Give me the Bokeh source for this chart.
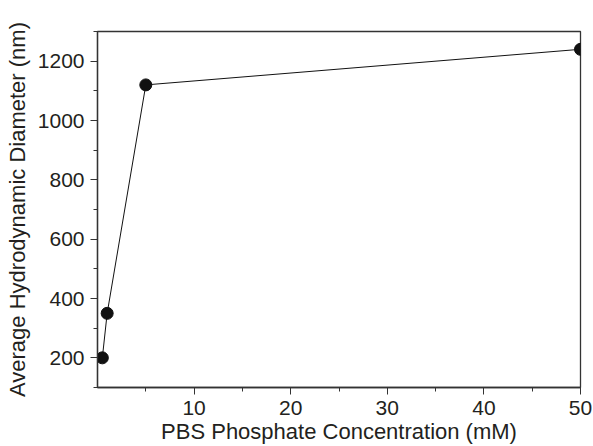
from bokeh.plotting import figure
from bokeh.models import FixedTicker, Range1d
from bokeh.embed import file_html
from bokeh.resources import INLINE

# Data
concentration_mM = [0.5, 1, 5, 50]
diameter_nm = [200, 350, 1120, 1240]
x_ticks = [10, 20, 30, 40, 50]
x_minor = [5, 15, 25, 35, 45]
y_ticks = [200, 400, 600, 800, 1000, 1200]
y_minor = [100, 300, 500, 700, 900, 1100, 1300]

X_MIN, X_MAX = 0, 50
Y_MIN, Y_MAX = 100, 1300

TXT = "#231f20"
FONT = "Liberation Sans"

p = figure(width=593, height=446, output_backend="svg", toolbar_location=None,
           x_range=Range1d(X_MIN, X_MAX), y_range=Range1d(Y_MIN, Y_MAX),
           min_border_left=97, min_border_right=13, min_border_top=31, min_border_bottom=57)

p.line(concentration_mM, diameter_nm, line_color="#111111", line_width=1)
p.scatter(concentration_mM, diameter_nm, size=12, fill_color="#111111", line_color="#111111")

p.grid.visible = False
p.outline_line_color = "#333333"
p.outline_line_width = 1.3

for ax in (p.xaxis[0], p.yaxis[0]):
    ax.axis_line_color = "#333333"
    ax.axis_line_width = 1.3
    ax.major_tick_line_color = "#333333"
    ax.minor_tick_line_color = "#333333"
    ax.major_tick_out = 7
    ax.major_tick_in = 0
    ax.minor_tick_out = 4
    ax.minor_tick_in = 0
    ax.major_label_text_font = FONT
    ax.major_label_text_font_size = "21px"
    ax.major_label_text_color = TXT
    ax.axis_label_text_font = FONT
    ax.axis_label_text_font_style = "normal"
    ax.axis_label_text_color = TXT

p.xaxis.axis_label_text_font_size = "22px"
p.yaxis.axis_label_text_font_size = "22px"
p.xaxis.ticker = FixedTicker(ticks=x_ticks, minor_ticks=x_minor)
p.yaxis.ticker = FixedTicker(ticks=y_ticks, minor_ticks=y_minor)
p.xaxis.axis_label = "PBS Phosphate Concentration (mM)"
p.yaxis.axis_label = "Average Hydrodynamic Diameter (nm)"
p.xaxis.major_label_standoff = 6
p.xaxis.axis_label_standoff = 1
p.yaxis.major_label_standoff = 6
p.yaxis.axis_label_standoff = 5

open("out.html", "w").write(file_html(p, INLINE))
